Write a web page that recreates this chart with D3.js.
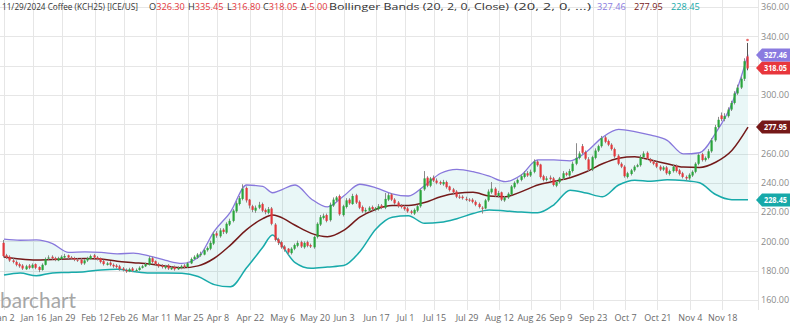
<!DOCTYPE html>
<html><head><meta charset="utf-8">
<script src="https://cdn.jsdelivr.net/npm/d3@7"></script>
<style>
html,body{margin:0;padding:0;background:#fff;}
svg{display:block;font-family:"Open Sans","Noto Sans",sans-serif;}
</style></head>
<body><svg id="c" width="790" height="326"></svg>
<script>
// ---- categories (trading sessions) ----
const startDate = "2024-01-02", endDate = "2024-11-29";
const holidays = ["2024-01-15","2024-02-19","2024-03-29","2024-05-27","2024-06-19","2024-07-04","2024-09-02","2024-11-28"];
const tickDates = ["2024-01-02","2024-01-16","2024-01-29","2024-02-12","2024-02-26","2024-03-11","2024-03-25","2024-04-08","2024-04-22","2024-05-06","2024-05-20","2024-06-03","2024-06-17","2024-07-01","2024-07-15","2024-07-29","2024-08-12","2024-08-26","2024-09-09","2024-09-23","2024-10-07","2024-10-21","2024-11-04","2024-11-18"];
const tickLabels = ["Jan 2","Jan 16","Jan 29","Feb 12","Feb 26","Mar 11","Mar 25","Apr 8","Apr 22","May 6","May 20","Jun 3","Jun 17","Jul 1","Jul 15","Jul 29","Aug 12","Aug 26","Sep 9","Sep 23","Oct 7","Oct 21","Nov 4","Nov 18"];
const yTicks = [160,180,200,220,240,260,280,300,320,340,360];

// ---- OHLC series ----
const opens = [199,190.5,189.5,187,186,184.5,183.5,181,183.5,182,
184.5,182.5,180.5,184,188.5,189.5,188.5,187,188,189,
190.5,189,188.5,187.5,187.5,185,187,188,190.5,189,
188.5,186.5,184,185.5,184,183.5,183,181.5,180.5,179.5,
181.5,180,180.5,182,183,184,188.5,186.5,184.5,183.5,
182,183.5,181,182.5,181,182,183.5,182.5,185,188,
189,190.5,191,194,195,198.5,205.5,203.5,208,206,
211.5,214,220.5,225.5,229,236.5,228.5,224,221,223,
225.5,221.5,219.5,222.5,211.5,201.5,199.5,196.5,195,192,
195,197,199.5,196,199.5,197.5,196,203,211.5,216,
218,214.5,224.5,228,231,218,223.5,228.5,225.5,231.5,
227,223.5,220.5,221,223.5,221.5,222,224.5,223,228.5,
232,228.5,226.5,224.5,223.5,222.5,220.5,219,221,224,
235.5,243.5,238,243.5,241.5,240.5,239,240.5,237.5,235.5,
234,230.5,230.5,229,228.5,228.5,227,225.5,223,222.5,
228,233.5,236,231,233.5,228,230,232,237,240,
242,244,246.5,245,247.5,254.5,252.5,244.5,242,243.5,
243,238,240.5,243,246.5,245,248,253,257,265,
261,256,249,257,262,265,271,268.5,266,263,
258.5,253,251,244,246,248.5,251,252,257.5,260.5,
256,254.5,253.5,251,249,250.5,246,248,251.5,248.5,
246.5,244,243,245,247.5,253,259.5,255.5,257,261.5,
269,278,286,283.5,285.5,290,294.5,301,305,311,326.30];
const highs = [201,191.5,190.5,188.5,187,185.5,184.5,184,184.5,185,
185,183,185,189,190.5,190.5,189.5,189.5,190.5,191.5,
191,190,189.5,188.5,188.5,188,189.5,191,191.5,190,
189,187.5,186,186.5,185,184.5,184,182.5,181.5,182,
182.5,181.5,183,184,185.5,190,189.5,187,185.5,184.5,
184,184.5,183,183.5,183,184,184.5,186,189,190.5,
192,193,195,196.5,200.5,206.5,207,209,209,213,
215.5,222,227.5,231,239,237.5,229,225,224.5,227,
226.5,222.5,223.5,223.5,212.5,202.5,200.5,197.5,195.5,196,
198.5,200.5,200.5,200,200.5,198.5,204,213,218,219,
219,226.5,230,231,232,225,229.5,229.5,232.5,232.5,
228,224.5,223,224,224.5,223.5,225.5,225.5,233,233,
233,229.5,227.5,225.5,224.5,223.5,221.5,222.5,225,236,
248,244.5,244,245,243,241.5,242,241.5,238,236.5,
235,232,231.5,230.5,229.5,229.5,228,226.5,224,229,
235.5,240.5,237,234.5,234,231,233.5,238.5,241,243,
246,248,248,249,256,255.5,253,245.5,244.5,245,
244,241.5,244,248,247.5,249.5,254.5,267,261.5,266.5,
262,257.5,258.5,263.5,266,272,272,269.5,267,264,
259.5,254,252,247.5,249.5,252,253,259,261.5,261.5,
257,255.5,254.5,252,251.5,251.5,249,252.5,252.5,249.5,
247.5,245,246.5,248.5,254,260,260.5,258,263,270.5,
279.5,285,288,287.5,291.5,296,302.5,307,312.5,325,335.45];
const lows = [189,188,186,185,183,182,180.5,180.5,181,181.5,
181,179,180,183.5,187.5,187.5,186.5,186.5,187.5,188.5,
188,187.5,186.5,186,184,184,186,187.5,188,187,
185,183.5,183.5,183,182,181.5,180,179.5,178.5,179,
179,179,180,181.5,182.5,183.5,185,183.5,182,181.5,
181,180.5,180.5,180,180.5,181,181.5,182,184.5,187.5,
188,189.5,190.5,193,194,197.5,202.5,202.5,205,205,
210.5,213,219.5,224.5,228,226.5,222.5,220,219.5,222,
220,218.5,218.5,211,200,197.5,195,193,190.5,191,
194,196,195.5,195,196,195.5,195,202,210.5,215,
213,213.5,223.5,227,217.5,217,222.5,225,225,225.5,
222,219.5,219.5,220,221,220.5,221,222,222,227.5,
227.5,225,223,222.5,221,219.5,218.5,218,220,223,
234.5,237,237,240.5,239,238.5,238,236,234,232.5,
229.5,229,228.5,227.5,227,226,224,222.5,219,222,
227,232.5,230.5,230,227.5,227,229,231.5,236,239,
241,243,244,244,246.5,251,243,241,241,241.5,
237.5,237,239.5,242,244.5,244,247,252,256,259.5,
255.5,248,248,256,261,264,267,265,262,257,
252,250,243.5,243,245,247.5,250.5,251,256.5,255.5,
253.5,252,250,248,248,245.5,245,247,247,245,
243,241.5,242,244,246.5,252,254.5,254.5,256,260.5,
268,277,282,282,284.5,289,293.5,300,304,309.5,316.80];
const closes = [190,189,187,186,184,183,181.5,183,182,184,
182,180.5,184,188,189,188.5,187.5,188.5,189.5,190,
189,188.5,187.5,187,185,187,188.5,190,189,188,
186,184.5,185,184,183,182.5,181,180.5,179.5,181,
180,180.5,182,183,184.5,188.5,186,184.5,183,182.5,
183,181.5,182,181,182,183,182.5,185,188,189.5,
191,191.5,194,195.5,199,205,204,207.5,206.5,212,
214,221,226,229.5,236,228,224.5,221.5,223,225,
221,220,222,212,201,199,196,194.5,192.5,195,
197.5,199,196.5,199,197,196.5,203,212,216.5,217.5,
214,225,228.5,230,218.5,224,228,226,231,226.5,
223,220.5,221.5,223,222,222.5,224,223,229,231.5,
228.5,226,224,223.5,222,220.5,219.5,221.5,224,235,
243,238,243,241.5,240,239.5,240.5,237,235,233.5,
230.5,230,229.5,228.5,228,227,225,223.5,222.5,228,
234,236,231.5,233,228.5,230,232.5,237.5,240,242,
244.5,246.5,245,247.5,254.5,252,244,242,243,242.5,
238.5,240.5,243,246.5,245.5,248,253,257,260,260.5,
256.5,249,257.5,262,265,270.5,268,266,263,258,
253,251,244.5,246.5,248.5,251,252,257.5,260,256.5,
254.5,253,251,249,250.5,246.5,248,251,248,246,
244,243,245.5,247.5,253,259,255.5,257,261.5,269,
278,283,283.5,285.5,290,294.5,301,305,311,323,318.05];

// ---- Bollinger Bands (20,2) sampled at session indices ----
const bandIdx = [0,5,10,15,20,25,30,35,40,45,50,55,60,65,70,75,80,83,85,90,95,100,105,110,115,120,125,130,135,140,145,150,155,160,165,170,175,180,185,190,195,200,205,210,215,220,225,230];
const bbUpper = [201.5,200.8,201,198.5,192.5,192.8,192.5,191.5,192,190,187,185,189,207,220,238.5,237.5,233.2,234.5,238.5,229,223.5,231,239,236.5,232.5,231,238,246.5,249.2,247.6,244.5,240.8,245.5,255.6,255.6,255,261,271,276.5,275,272.5,269,259.7,260.5,274,294,327.46];
const bbMiddle = [189.4,188,187.3,187.7,188,188.3,188,186.5,185.5,184.5,183.2,182,183.3,188.5,197.5,208,215.5,218,217,211,205.5,203.2,207.5,216.5,222,224.5,224.5,226.5,230.5,232.8,233.5,231,230.5,234,238.5,241,243.5,247.5,253,256.8,257.8,255.5,253,250.7,250.5,254,262,277.95];
const bbLower = [177,178.4,176.5,178.5,178.8,179.3,180.5,181,179.5,178.4,178.4,178.2,176,170.5,169,182,196,204.4,200,185.5,181.6,182.5,183.5,193,208.5,216.5,217.5,212.4,213,215.5,219,221.5,220.8,220,219.5,225,235,233,230.5,238.5,241.8,241,242,241.5,240,232,228.5,228.45];

// ---- header strings ----
const headerTitle = "11/29/2024 Coffee (KCH25) [ICE/US]";
const headerOHLC = [["O","326.30"],["H","335.45"],["L","316.80"],["C","318.05"],["Δ","-5.00"]];
const headerStudy = "Bollinger Bands (20, 2, 0, Close)";
const headerStudy2 = "(20, 2, 0, ...)";

// ---- build session list ----
const fmt = d3.utcFormat("%Y-%m-%d");
const days = d3.utcDays(new Date(startDate+"T00:00Z"), d3.utcDay.offset(new Date(endDate+"T00:00Z"),1))
  .filter(d => d.getUTCDay()!==0 && d.getUTCDay()!==6)
  .map(fmt).filter(s => !holidays.includes(s));

const svg = d3.select("#c");
const plotRight = 758;
const x = d3.scalePoint().domain(days).range([4, 748]);
const y = d3.scaleLinear().domain([160, 360]).range([300, 7]);

const gridC = "#e6e6e6";
svg.append("g").selectAll("line").data(yTicks).join("line")
  .attr("x1",0).attr("x2",plotRight)
  .attr("y1",d=>Math.round(y(d))+0.5).attr("y2",d=>Math.round(y(d))+0.5)
  .attr("stroke",gridC).attr("stroke-width",1);
svg.append("g").selectAll("line").data(tickDates).join("line")
  .attr("x1",d=>Math.round(x(d))+0.5).attr("x2",d=>Math.round(x(d))+0.5)
  .attr("y1",0).attr("y2",310)
  .attr("stroke",gridC).attr("stroke-width",1);
svg.append("line").attr("x1",plotRight+0.5).attr("x2",plotRight+0.5).attr("y1",0).attr("y2",310)
  .attr("stroke",gridC);

// watermark
svg.append("text").attr("x",0).attr("y",308).text("barchart")
  .attr("font-family","Lato, 'Open Sans', sans-serif").attr("font-size",21)
  .attr("textLength",76).attr("lengthAdjust","spacingAndGlyphs")
  .attr("fill","#a6a6a6");

// bands
const bx = i => x(days[bandIdx[i]]);
const area = d3.area().x((d,i)=>bx(i)).y0((d,i)=>y(bbLower[i])).y1((d,i)=>y(bbUpper[i])).curve(d3.curveMonotoneX);
svg.append("path").datum(bandIdx).attr("d",area).attr("fill","rgba(40,180,180,0.1)");
const line = arr => d3.line().x((d,i)=>bx(i)).y((d,i)=>y(arr[i])).curve(d3.curveMonotoneX)(bandIdx);
svg.append("path").attr("d",line(bbUpper)).attr("fill","none").attr("stroke","#8878dc").attr("stroke-width",1.3);
svg.append("path").attr("d",line(bbMiddle)).attr("fill","none").attr("stroke","#741a1a").attr("stroke-width",1.5);
svg.append("path").attr("d",line(bbLower)).attr("fill","none").attr("stroke","#18aaaa").attr("stroke-width",1.5);

// candles
const green = "#2aa53c", red = "#e3383c";
const cg = svg.append("g");
days.forEach((d,i)=>{
  if (i >= closes.length) return;
  const cx = Math.round(x(d));
  const o = opens[i], c = closes[i];
  const col = c >= o ? green : red;
  cg.append("line").attr("x1",cx-0.5).attr("x2",cx-0.5)
    .attr("y1",y(highs[i])).attr("y2",y(lows[i]))
    .attr("stroke", i===days.length-1 ? "#555" : "#8a8a8a").attr("stroke-width",1);
  const top = y(Math.max(o,c)), bot = y(Math.min(o,c));
  cg.append("rect").attr("x",cx-1.5).attr("width",2.2)
    .attr("y",top).attr("height",Math.max(1,bot-top)).attr("fill",col);
});
const lastI = closes.length-1;
svg.append("circle").attr("cx",Math.round(x(days[lastI]))-0.5).attr("cy",y(highs[lastI])-3)
  .attr("r",1.3).attr("fill","#e86a6a");

// value tags
const tags = [
  {v: bbLower[bbLower.length-1], col:"#17a9a9"},
  {v: bbMiddle[bbMiddle.length-1], col:"#751818"},
  {v: closes[lastI], col:"#e8363c"},
  {v: bbUpper[bbUpper.length-1], col:"#8a7be0"}
];

// y axis labels (those hidden beneath a value tag are skipped)
svg.append("g").selectAll("text")
  .data(yTicks.filter(t => !tags.some(g => Math.abs(y(g.v) - y(t)) < 10)))
  .join("text")
  .attr("x",761).attr("y",d=>y(d)+3.3).text(d=>d.toFixed(2))
  .attr("font-size",9).attr("fill","#8a8a8a");

tags.forEach(t=>{
  const cyR = Math.round(y(t.v));
  svg.append("path").attr("d",`M756,${cyR} L762,${cyR-6.5} L790,${cyR-6.5} L790,${cyR+6.5} L762,${cyR+6.5} Z`).attr("fill",t.col);
  svg.append("text").attr("x",764).attr("y",cyR+3.2).text(t.v.toFixed(2))
    .attr("font-size",8.5).attr("font-weight","bold").attr("fill","#fff")
    .attr("textLength",23).attr("lengthAdjust","spacingAndGlyphs");
});

// x axis
const xa = svg.append("g").attr("transform","translate(0,309)")
  .call(d3.axisBottom(x).tickValues(tickDates).tickSize(0).tickPadding(6)
        .tickFormat(d=>tickLabels[tickDates.indexOf(d)]));
xa.select(".domain").remove();
xa.selectAll("text").attr("font-size",9).attr("fill","#6a6a6a").attr("font-family","'Open Sans',sans-serif");

// header
const hy = 10, txtC = "#333", redT = "#e3383c";
const hg = svg.append("g").attr("font-size",9.2);
hg.append("text").attr("x",2).attr("y",hy).attr("fill",txtC).text(headerTitle)
  .attr("textLength",136).attr("lengthAdjust","spacingAndGlyphs");
const ohlcX = [149,188,227,263,301];
headerOHLC.forEach((p,i)=>{
  const t = hg.append("text").attr("x",ohlcX[i]).attr("y",hy);
  t.append("tspan").attr("fill",txtC).text(p[0]);
  t.append("tspan").attr("fill",redT).text(p[1]);
});
hg.append("text").attr("x",329).attr("y",hy).attr("fill",txtC).text(headerStudy)
  .attr("textLength",180).attr("lengthAdjust","spacingAndGlyphs");
hg.append("text").attr("x",514).attr("y",hy).attr("fill",txtC).text(headerStudy2)
  .attr("textLength",77).attr("lengthAdjust","spacingAndGlyphs");
const bbVals = [[bbUpper[bbUpper.length-1],"#8a7be0",597],[bbMiddle[bbMiddle.length-1],"#751818",634],[bbLower[bbLower.length-1],"#17a9a9",671]];
bbVals.forEach(b=> hg.append("text").attr("x",b[2]).attr("y",hy).attr("fill",b[1]).text(b[0].toFixed(2)));
</script></body></html>
